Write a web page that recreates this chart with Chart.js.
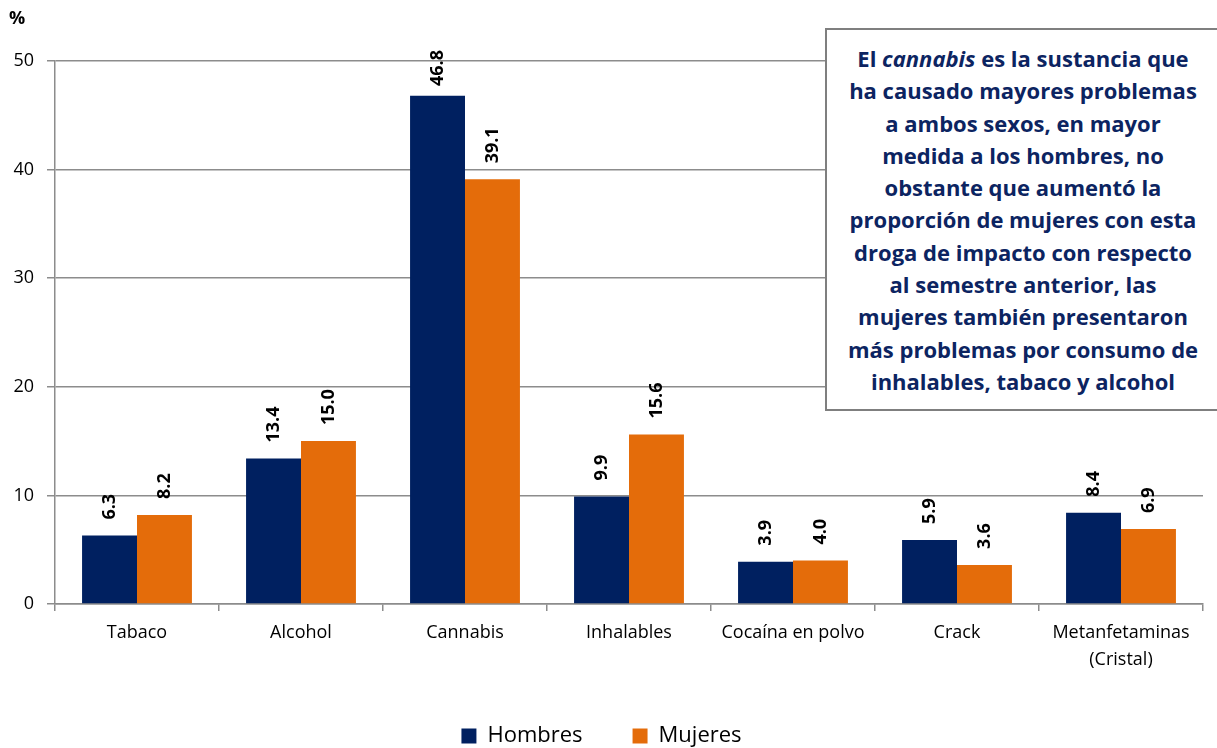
<!DOCTYPE html>
<html>
<head>
<meta charset="utf-8">
<script src="https://cdn.jsdelivr.net/npm/chart.js@4.4.1/dist/chart.umd.min.js"></script>
<style>
  html, body { margin: 0; padding: 0; background: #fff; }
  #wrap { position: relative; width: 1217px; height: 748px; overflow: hidden; }
  #nota {
    position: absolute; left: 825px; top: 28px; width: 396px; height: 383px;
    border: 2px solid #7f7f7f; background: #fff;
    font-family: "Open Sans", sans-serif; font-weight: bold; font-size: 22px;
    line-height: 32.3px; color: #0c2461; text-align: center;
    padding-top: 12px; box-sizing: border-box; white-space: nowrap;
  }
  #pct { position: absolute; left: 9px; top: 5px; font: bold 18px "Open Sans", sans-serif; }
</style>
</head>
<body>
<div id="wrap">
  <canvas id="grafica" width="1217" height="748"></canvas>
  <div id="pct">%</div>
  <div id="nota">El <i>cannabis</i> es la sustancia que<br>ha causado mayores problemas<br>a ambos sexos, en mayor<br>medida a los hombres, no<br>obstante que aumentó la<br>proporción de mujeres con esta<br>droga de impacto con respecto<br>al semestre anterior, las<br>mujeres también presentaron<br>más problemas por consumo de<br>inhalables, tabaco y alcohol</div>
</div>
<script>
const categorias = ['Tabaco', 'Alcohol', 'Cannabis', 'Inhalables', 'Cocaína en polvo', 'Crack', ['Metanfetaminas', '(Cristal)']];
const hombres = [6.3, 13.4, 46.8, 9.9, 3.9, 5.9, 8.4];
const mujeres = [8.2, 15.0, 39.1, 15.6, 4.0, 3.6, 6.9];
const ticksY = [0, 10, 20, 30, 40, 50];

const padAbajo = -9;

// etiquetas de valor giradas encima de cada barra
const etiquetas = {
  id: 'etiquetas',
  afterDatasetsDraw(chart) {
    const ctx = chart.ctx;
    ctx.save();
    ctx.font = 'bold 18px "Open Sans", sans-serif';
    ctx.fillStyle = '#000';
    ctx.textAlign = 'left';
    ctx.textBaseline = 'middle';
    chart.data.datasets.forEach((ds, i) => {
      chart.getDatasetMeta(i).data.forEach((bar, j) => {
        const txt = ds.data[j].toFixed(1);
        const w = ctx.measureText(txt).width;
        // no dejar que la etiqueta suba demasiado por encima del area
        const y0 = Math.max(bar.y - 16, chart.chartArea.top - 11 + w);
        ctx.save();
        ctx.translate(bar.x, y0);
        ctx.rotate(-Math.PI / 2);
        ctx.fillText(txt, 0, 0);
        ctx.restore();
      });
    });
    ctx.restore();
  }
};

new Chart(document.getElementById('grafica'), {
  type: 'bar',
  data: {
    labels: categorias,
    datasets: [
      { label: 'Hombres', data: hombres, backgroundColor: '#002060' },
      { label: 'Mujeres', data: mujeres, backgroundColor: '#e46c0a' }
    ]
  },
  options: {
    responsive: false,
    animation: false,
    layout: { padding: { top: 61, right: 14, left: 0, bottom: padAbajo } },
    datasets: { bar: { categoryPercentage: 0.67, barPercentage: 1 } },
    scales: {
      x: {
        grid: { offset: true, drawOnChartArea: false, color: '#8c8c8c', tickLength: 7, lineWidth: 1.5 },
        border: { color: '#8c8c8c', width: 1.5 },
        ticks: { color: '#000', font: { family: '"Open Sans", sans-serif', size: 18, lineHeight: 1.5 }, maxRotation: 0, padding: 8 },
        afterFit(scale) { scale.height = 748 - 604 - padAbajo - scale.chart.legend.height; }
      },
      y: {
        min: 0, max: 50,
        afterBuildTicks(scale) { scale.ticks = ticksY.map(v => ({ value: v })); },
        grid: { color: '#8c8c8c', lineWidth: 1.5, tickLength: 8 },
        border: { color: '#8c8c8c', width: 1.5 },
        ticks: { color: '#000', font: { family: '"Open Sans", sans-serif', size: 18 }, padding: 13 },
        afterFit(scale) { scale.width = 55; }
      }
    },
    plugins: {
      legend: {
        position: 'bottom',
        labels: {
          color: '#000', font: { family: '"Open Sans", sans-serif', size: 22 },
          boxWidth: 15, boxHeight: 15, padding: 50
        }
      },
      tooltip: { enabled: false }
    }
  },
  plugins: [etiquetas]
});
</script>
</body>
</html>
